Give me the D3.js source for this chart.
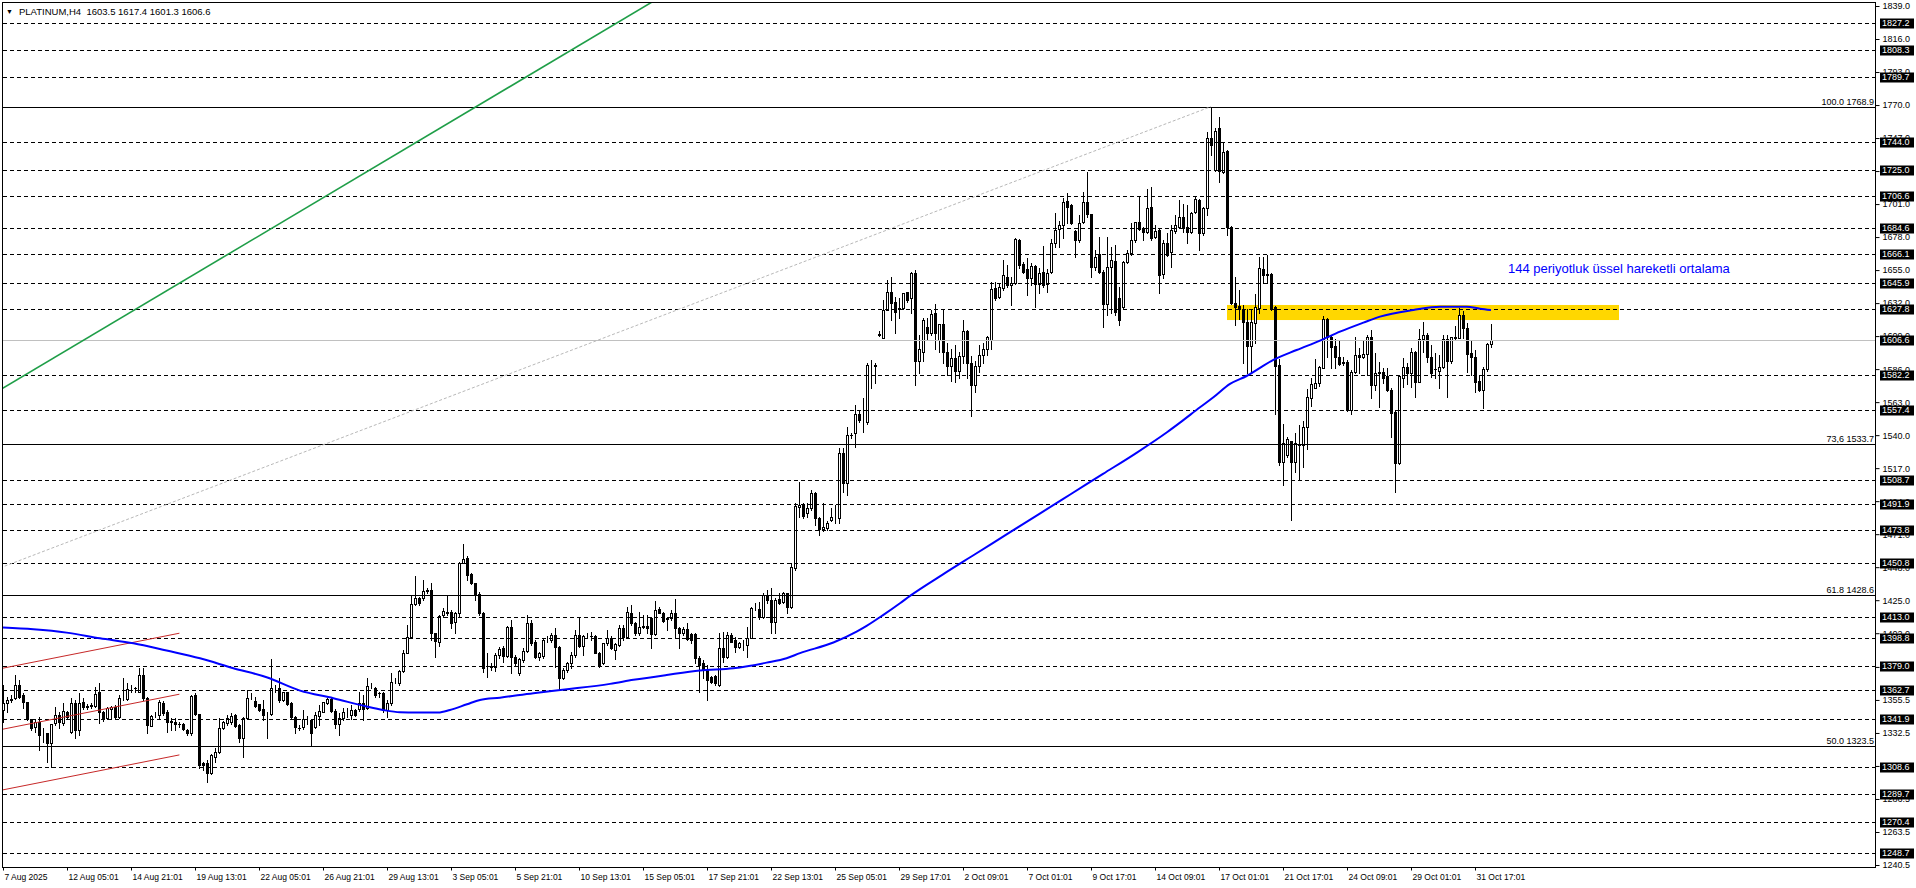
<!DOCTYPE html>
<html><head><meta charset="utf-8">
<script src="https://cdn.jsdelivr.net/npm/d3@7"></script>
<style>
body{margin:0;background:#fff;}
svg{display:block;}
text{font-family:"Liberation Sans",Arial,sans-serif;}
</style>
</head><body>
<svg id="chart" width="1916" height="888"></svg>
<script>
// ---------------- DATA ----------------
const symbolTitle = "PLATINUM,H4";
const lastOHLC = ["1603.5", "1617.4", "1601.3", "1606.6"];

const opens = [
1348.5,1353.6,1355.5,1356.7,1365.9,1359.0,1353.9,1342.0,1336.9,1340.4,
1332.3,1332.3,1325.3,1339.3,1345.1,1339.3,1347.4,1333.4,1353.2,1334.6,
1354.3,1351.6,1351.6,1351.3,1360.8,1347.4,1342.7,1349.0,1350.9,1343.9,
1356.7,1356.0,1363.6,1363.6,1361.3,1372.9,1356.7,1337.6,1345.1,1345.1,
1353.6,1347.4,1340.4,1340.0,1338.6,1338.6,1334.6,1332.7,1359.0,1345.5,
1311.9,1311.9,1304.4,1316.0,1319.0,1335.8,1339.7,1340.4,1344.9,1338.1,
1328.8,1342.7,1357.8,1354.8,1352.7,1349.2,1346.2,1345.8,1363.6,1364.1,
1355.5,1360.8,1353.2,1343.4,1336.2,1336.9,1342.0,1341.6,1336.9,1344.4,
1347.4,1353.6,1356.2,1348.1,1338.8,1342.7,1346.9,1345.1,1348.5,1349.0,
1353.2,1349.7,1365.3,1363.6,1360.2,1360.2,1348.5,1353.2,1368.5,1367.1,
1375.9,1388.5,1399.6,1422.2,1426.3,1426.3,1431.6,1432.1,1401.9,1396.2,
1414.7,1416.6,1417.0,1409.6,1415.9,1451.2,1454.2,1443.3,1436.8,1429.3,
1416.4,1378.7,1378.7,1378.7,1386.9,1392.0,1386.2,1406.1,1385.7,1374.6,
1383.4,1389.6,1408.9,1395.9,1385.7,1386.2,1398.5,1397.3,1400.8,1392.7,
1370.6,1376.4,1381.0,1386.9,1400.8,1393.1,1400.1,1400.1,1400.3,1388.5,
1381.0,1395.0,1398.9,1390.3,1393.9,1405.5,1399.6,1415.9,1409.0,1402.4,
1406.0,1407.1,1412.9,1401.3,1418.7,1415.9,1412.0,1412.4,1415.9,1405.5,
1402.0,1404.8,1401.3,1401.3,1384.6,1381.0,1376.4,1371.8,1372.2,1366.0,
1391.5,1385.7,1400.8,1397.3,1392.7,1395.0,1393.9,1398.9,1419.4,1418.7,
1413.6,1428.7,1425.2,1410.1,1425.7,1424.0,1429.8,1420.6,1447.2,1489.7,
1491.8,1485.6,1489.0,1499.5,1482.1,1474.5,1475.5,1481.0,1482.5,1482.1,
1527.8,1506.5,1540.1,1541.3,1554.8,1550.6,1549.4,1588.9,1588.4,1610.0,
1607.5,1627.2,1639.5,1633.0,1628.0,1628.4,1639.5,1635.3,1653.2,1592.0,
1598.0,1615.6,1611.0,1624.9,1606.0,1617.2,1598.0,1588.0,1594.0,1585.0,
1595.0,1612.6,1590.0,1575.0,1588.0,1596.0,1600.0,1606.0,1642.3,1636.5,
1642.3,1650.4,1644.6,1645.8,1676.0,1659.3,1655.5,1649.3,1657.9,1645.3,
1653.5,1645.3,1653.9,1673.7,1683.4,1686.4,1703.1,1700.4,1682.3,1676.0,
1688.7,1702.7,1694.0,1657.4,1666.2,1654.0,1631.4,1657.4,1661.0,1635.3,
1629.5,1660.4,1667.2,1676.0,1688.3,1684.1,1681.8,1698.7,1677.8,1682.9,
1652.3,1673.7,1667.9,1682.5,1685.3,1692.2,1685.3,1681.8,1695.7,1703.9,
1680.6,1698.0,1746.8,1725.0,1753.8,1723.6,1738.2,1685.3,1632.3,1630.0,
1628.0,1619.0,1602.0,1618.0,1628.4,1656.0,1651.6,1652.0,1629.5,1589.0,
1521.6,1526.0,1536.0,1521.6,1534.0,1533.0,1546.0,1566.0,1573.0,1576.0,
1587.0,1620.7,1608.6,1602.0,1594.7,1590.0,1591.2,1557.5,1584.2,1595.9,
1594.7,1596.5,1608.6,1575.0,1584.0,1584.0,1581.0,1571.5,1556.4,1520.4,
1580.0,1587.3,1583.6,1598.2,1577.3,1606.8,1609.8,1594.2,1586.0,1585.0,
1587.3,1606.8,1592.0,1608.0,1607.5,1623.7,1614.4,1597.5,1594.7,1578.0,
1571.5,1585.9,1603.5];

const highs = [
1365.9,1357.8,1359.0,1372.9,1369.4,1360.0,1354.0,1342.0,1342.0,1343.9,
1335.8,1332.7,1338.5,1350.9,1347.0,1353.2,1348.0,1356.7,1355.5,1360.1,
1357.0,1353.0,1353.5,1364.8,1367.1,1348.0,1350.5,1351.6,1352.0,1359.0,
1370.6,1367.1,1365.9,1364.8,1377.5,1377.5,1357.8,1345.0,1347.4,1355.5,
1354.5,1348.5,1342.7,1342.7,1340.4,1339.3,1335.0,1359.0,1360.1,1346.0,
1312.0,1313.7,1318.0,1321.8,1343.2,1340.5,1345.1,1346.2,1346.0,1339.0,
1343.5,1362.5,1360.1,1357.8,1353.0,1355.5,1347.0,1383.8,1365.9,1370.6,
1361.3,1361.0,1354.0,1344.0,1338.1,1348.5,1344.0,1342.0,1347.4,1352.0,
1354.0,1357.0,1357.6,1349.0,1346.2,1349.7,1349.7,1352.0,1349.0,1361.3,
1359.0,1371.1,1367.1,1364.8,1361.3,1361.0,1355.6,1374.1,1370.6,1376.4,
1390.3,1407.8,1428.7,1441.9,1427.0,1439.1,1433.3,1437.3,1402.0,1414.7,
1419.4,1428.0,1418.2,1417.0,1451.9,1464.2,1455.8,1444.0,1437.3,1431.0,
1417.0,1388.0,1381.0,1388.0,1392.7,1393.0,1407.1,1411.2,1386.9,1384.6,
1391.5,1414.7,1411.2,1397.3,1389.2,1398.0,1400.1,1402.0,1405.4,1393.0,
1377.6,1382.0,1389.2,1404.3,1413.1,1401.0,1401.9,1403.1,1401.0,1389.0,
1395.5,1404.3,1400.0,1395.0,1407.6,1408.0,1420.6,1421.7,1410.0,1417.0,
1414.8,1414.8,1413.0,1424.5,1420.6,1417.0,1413.6,1418.2,1425.7,1406.0,
1406.0,1408.9,1402.0,1402.4,1385.8,1383.4,1379.9,1372.0,1373.0,1402.0,
1403.0,1403.0,1402.0,1399.6,1396.0,1397.6,1406.6,1420.6,1422.9,1424.0,
1430.0,1432.2,1433.4,1426.4,1429.8,1430.4,1430.0,1450.8,1492.5,1507.6,
1493.0,1492.5,1501.8,1500.7,1483.0,1492.5,1480.0,1489.0,1491.4,1530.8,
1530.8,1545.9,1541.3,1561.0,1557.5,1565.7,1590.0,1592.3,1590.0,1612.6,
1634.2,1648.1,1650.4,1636.5,1635.3,1639.0,1640.0,1654.0,1655.0,1610.0,
1621.4,1621.4,1627.2,1631.4,1617.2,1627.7,1604.0,1600.0,1603.0,1598.0,
1620.3,1613.0,1595.0,1592.0,1603.0,1604.0,1609.0,1647.0,1647.0,1645.8,
1662.1,1658.6,1650.5,1677.1,1676.4,1660.9,1663.2,1660.2,1658.6,1656.2,
1672.0,1656.0,1676.4,1694.6,1689.2,1705.0,1709.0,1701.0,1683.0,1693.4,
1709.6,1723.1,1694.0,1669.0,1678.3,1655.0,1678.3,1671.3,1672.5,1643.5,
1661.4,1669.0,1687.6,1688.7,1706.2,1685.3,1711.3,1712.7,1686.4,1684.1,
1676.0,1680.6,1686.4,1693.4,1703.8,1701.0,1700.4,1695.5,1706.6,1704.3,
1699.2,1751.5,1768.4,1754.0,1761.9,1744.5,1738.7,1686.0,1650.4,1641.0,
1631.0,1628.0,1628.0,1638.0,1664.0,1664.4,1665.5,1653.0,1630.0,1593.0,
1547.8,1539.0,1536.0,1541.3,1547.0,1550.0,1572.0,1580.0,1593.0,1588.0,
1623.0,1621.4,1609.8,1606.8,1606.3,1594.7,1592.4,1585.4,1608.6,1600.5,
1606.3,1609.8,1613.3,1597.0,1591.0,1586.6,1586.6,1572.6,1557.6,1582.0,
1593.5,1590.0,1600.5,1598.9,1613.8,1619.1,1611.0,1602.8,1597.0,1595.9,
1609.8,1609.8,1608.6,1616.0,1628.4,1626.7,1617.9,1606.3,1599.3,1581.9,
1587.3,1604.4,1617.4];

const lows = [
1340.4,1347.4,1354.0,1356.0,1356.7,1350.0,1341.6,1334.6,1333.5,1320.7,
1326.5,1312.1,1309.1,1338.0,1336.0,1338.0,1342.0,1332.3,1328.8,1331.1,
1349.0,1349.0,1350.0,1350.9,1339.3,1341.0,1342.0,1342.7,1343.0,1342.7,
1355.5,1355.5,1361.3,1361.3,1360.8,1355.5,1332.7,1337.0,1343.9,1342.7,
1345.0,1333.4,1334.6,1334.6,1336.9,1334.6,1331.0,1331.1,1345.0,1307.9,
1306.7,1298.6,1304.0,1312.5,1318.4,1335.0,1338.0,1339.0,1336.9,1326.5,
1316.0,1342.0,1356.0,1350.9,1348.0,1341.6,1329.3,1345.0,1361.3,1354.4,
1355.0,1352.0,1342.5,1332.3,1334.6,1335.5,1339.0,1324.2,1336.0,1338.0,
1347.0,1353.0,1347.0,1335.8,1331.1,1341.6,1343.9,1342.0,1344.0,1348.0,
1341.6,1349.0,1363.6,1357.8,1357.8,1347.4,1343.4,1352.0,1367.1,1366.0,
1375.2,1388.0,1399.2,1421.7,1422.0,1425.0,1429.8,1397.3,1385.7,1393.1,
1413.6,1414.7,1405.4,1402.4,1413.1,1450.7,1439.1,1436.0,1425.2,1414.7,
1375.2,1371.8,1376.4,1376.0,1384.5,1382.2,1385.7,1374.1,1379.9,1372.9,
1382.2,1389.2,1393.8,1384.5,1383.4,1385.0,1396.1,1396.0,1378.7,1362.5,
1369.9,1375.0,1377.6,1385.7,1392.7,1386.9,1398.5,1397.3,1388.0,1378.7,
1380.6,1394.0,1391.0,1384.0,1393.0,1397.0,1398.5,1407.9,1401.0,1400.7,
1405.5,1402.4,1392.0,1401.0,1415.9,1410.0,1404.3,1411.2,1399.6,1392.0,
1401.0,1397.0,1395.0,1381.0,1361.3,1370.6,1355.5,1367.0,1366.0,1365.0,
1382.0,1385.0,1396.0,1389.0,1392.0,1390.5,1385.7,1398.5,1418.2,1412.0,
1412.3,1422.9,1402.0,1402.0,1422.4,1423.0,1415.9,1419.4,1446.0,1483.3,
1482.0,1483.3,1487.9,1477.4,1470.5,1473.5,1474.0,1480.5,1478.6,1478.6,
1500.7,1498.3,1537.8,1532.0,1549.4,1542.5,1547.8,1572.7,1576.0,1609.0,
1607.5,1627.2,1620.3,1611.4,1621.4,1628.0,1633.0,1625.0,1575.0,1583.0,
1592.0,1606.3,1609.8,1600.0,1598.0,1590.0,1582.0,1578.0,1577.0,1580.0,
1590.0,1580.0,1553.0,1570.0,1584.0,1590.0,1596.0,1600.0,1634.2,1635.3,
1641.2,1643.5,1630.7,1645.3,1656.3,1652.8,1637.7,1644.6,1629.5,1638.8,
1643.5,1640.0,1652.8,1671.3,1671.3,1677.1,1687.6,1687.1,1664.4,1674.8,
1687.6,1692.3,1650.4,1655.1,1652.8,1615.6,1623.7,1624.9,1623.7,1616.8,
1628.4,1659.7,1665.5,1674.8,1683.0,1676.0,1681.1,1676.0,1677.1,1639.3,
1649.3,1664.9,1657.4,1681.1,1684.1,1681.8,1673.7,1680.6,1695.0,1669.0,
1679.5,1693.4,1735.2,1724.0,1716.6,1722.4,1679.5,1631.5,1617.0,1621.0,
1590.0,1583.0,1583.0,1604.0,1625.0,1645.8,1646.0,1627.0,1555.0,1519.0,
1505.3,1525.0,1481.0,1514.6,1509.0,1518.0,1530.0,1560.3,1573.0,1574.0,
1586.5,1594.7,1586.6,1586.6,1588.9,1589.0,1557.0,1554.8,1583.6,1583.0,
1593.5,1581.9,1565.7,1571.5,1559.4,1576.0,1571.0,1539.0,1500.6,1520.0,
1573.3,1575.6,1573.3,1566.3,1576.8,1598.2,1591.2,1580.3,1579.6,1572.6,
1586.6,1566.3,1590.0,1607.0,1607.5,1607.5,1584.2,1581.9,1570.3,1571.0,
1558.7,1585.0,1601.3];

const closes = [
1353.6,1355.5,1356.0,1365.9,1357.8,1354.3,1342.0,1335.8,1340.4,1331.1,
1332.6,1325.3,1338.5,1345.1,1340.4,1347.8,1343.9,1353.2,1334.6,1353.6,
1350.9,1350.9,1351.7,1359.4,1347.4,1342.7,1349.7,1350.9,1343.9,1356.7,
1356.8,1362.9,1363.7,1363.5,1372.9,1356.7,1338.1,1344.4,1345.2,1354.3,
1346.2,1340.4,1340.5,1338.8,1338.5,1335.1,1332.7,1358.3,1345.5,1310.2,
1310.2,1304.4,1317.2,1319.0,1335.8,1339.9,1342.7,1344.4,1337.4,1328.8,
1342.7,1357.1,1357.9,1351.3,1348.5,1345.1,1346.3,1363.6,1363.8,1355.5,
1360.8,1352.7,1343.4,1336.9,1335.8,1342.0,1342.2,1332.3,1345.1,1348.1,
1353.9,1356.2,1347.8,1338.8,1342.7,1346.9,1347.0,1348.5,1345.1,1353.2,
1349.0,1365.3,1365.4,1359.0,1360.1,1348.5,1353.2,1368.3,1368.8,1375.9,
1388.5,1399.6,1422.2,1426.3,1422.8,1431.4,1431.8,1401.9,1396.8,1414.0,
1417.7,1416.4,1409.4,1415.9,1450.7,1453.5,1442.6,1436.8,1428.7,1416.4,
1377.6,1378.8,1378.9,1386.9,1390.8,1386.2,1406.1,1385.7,1381.5,1383.8,
1389.9,1408.9,1395.4,1385.7,1388.5,1397.3,1398.6,1400.8,1392.2,1370.6,
1376.4,1381.5,1386.9,1400.8,1393.1,1400.1,1400.2,1399.8,1388.5,1379.9,
1395.0,1398.9,1391.5,1394.5,1405.5,1399.6,1417.1,1409.0,1402.0,1406.2,
1407.1,1405.5,1401.3,1418.2,1416.4,1410.8,1412.4,1415.9,1405.5,1402.0,
1404.8,1397.8,1397.3,1384.6,1379.9,1376.4,1369.5,1368.3,1367.2,1391.5,
1385.7,1400.8,1396.2,1392.7,1395.0,1395.2,1398.9,1419.4,1419.7,1413.6,
1428.7,1425.2,1410.1,1425.2,1422.9,1429.8,1420.6,1448.4,1490.7,1491.4,
1483.7,1489.5,1499.5,1482.1,1474.5,1476.0,1478.5,1483.0,1482.6,1527.4,
1506.5,1540.1,1540.0,1554.8,1550.6,1550.7,1588.9,1589.0,1588.6,1610.3,
1627.2,1639.5,1632.3,1626.0,1628.4,1638.8,1634.2,1653.2,1592.0,1600.0,
1620.3,1611.0,1624.2,1611.0,1617.2,1598.0,1588.0,1594.0,1585.0,1595.0,
1612.6,1590.0,1575.0,1588.0,1596.0,1600.0,1608.6,1641.6,1635.3,1643.0,
1651.6,1644.6,1646.0,1676.4,1658.6,1653.9,1649.3,1657.9,1645.3,1653.2,
1644.6,1653.2,1673.7,1683.0,1686.4,1702.7,1698.7,1688.1,1676.0,1688.1,
1702.7,1693.9,1657.4,1664.4,1654.0,1631.4,1657.4,1662.0,1626.0,1620.3,
1660.4,1667.2,1676.0,1688.3,1683.4,1681.8,1698.0,1677.1,1682.3,1651.6,
1673.7,1665.5,1683.0,1686.4,1692.2,1684.6,1681.8,1695.0,1704.3,1680.6,
1698.0,1746.8,1742.2,1752.1,1724.3,1737.5,1685.3,1632.3,1629.0,1627.6,
1619.0,1602.0,1619.0,1629.5,1656.2,1651.6,1652.4,1628.4,1588.0,1521.6,
1534.8,1537.0,1521.6,1534.3,1533.0,1546.0,1566.4,1575.4,1576.0,1587.3,
1620.7,1608.6,1601.7,1594.7,1589.6,1591.0,1557.5,1584.2,1595.9,1594.2,
1596.5,1608.6,1575.0,1583.6,1583.0,1580.0,1571.5,1555.7,1520.4,1581.2,
1587.3,1583.6,1598.2,1577.3,1606.8,1609.8,1594.2,1583.6,1585.9,1587.3,
1606.8,1592.0,1608.2,1608.2,1623.7,1614.4,1596.5,1594.7,1577.3,1571.5,
1585.9,1603.5,1606.6];

// 144-period EMA as (bar index, value) points
const emaBars = [0,7.6,15.9,24.25,32.6,40.9,49.25,57.6,65.9,74.25,82.6,90.9,95,99.25,103.4,108.8,111.75,116,119.25,124.25,132.6,141,151.75,157.6,165.9,174.25,182.6,190.9,195.9,199.25,207.6,213.4,215.9,220.1,224.25,226.75,235,243,251,259,267,275,283,291,294.25,299.25,302.6,306.75,310.9,317.6,323.4,329.25,334.25,340.1,344.25,352.6,359.25,365.9,369.25,372];
const emaValues = [1405.9,1404.7,1402.4,1398.5,1395.0,1389.9,1384.5,1377.6,1371.3,1362.0,1356.7,1350.9,1348.5,1346.9,1346.7,1346.7,1348.5,1352.5,1355.5,1357.1,1360.2,1362.9,1366.7,1369.5,1372.9,1376.0,1377.6,1381.5,1384.6,1388.1,1395.5,1403.1,1407.1,1414.8,1422.9,1428.0,1443,1457,1471,1485,1499,1513,1527,1542,1548.7,1559.4,1566.4,1575.7,1581.2,1592.4,1599.3,1605.9,1612.1,1618.4,1622.6,1627.2,1629.5,1629.5,1628.1,1627.2];

// Horizontal levels (dashed) with their price boxes
const levelPrices = [1827.2,1808.3,1789.7,1744.0,1725.0,1706.6,1684.6,1666.1,1645.9,1627.8,1582.2,1557.4,1508.7,1491.9,1473.8,1450.8,1413.0,1398.8,1379.0,1362.7,1341.9,1308.6,1289.7,1270.4,1248.7];
const currentPrice = 1606.6;

// Fibonacci levels
const fibPrices = [1768.9, 1533.7, 1428.6, 1323.5];
const fibNames = ["100.0", "73,6", "61.8", "50.0"];

// Price axis tick labels
const priceTicks = [1839.0,1816.0,1793.0,1770.0,1747.0,1724.0,1701.0,1678.0,1655.0,1632.0,1609.0,1586.0,1563.0,1540.0,1517.0,1494.0,1471.0,1448.0,1425.0,1402.0,1378.5,1355.5,1332.5,1309.5,1286.5,1263.5,1240.5];

// Time axis labels (every 16 bars)
const dateLabels = ["7 Aug 2025","12 Aug 05:01","14 Aug 21:01","19 Aug 13:01","22 Aug 05:01","26 Aug 21:01","29 Aug 13:01","3 Sep 05:01","5 Sep 21:01","10 Sep 13:01","15 Sep 05:01","17 Sep 21:01","22 Sep 13:01","25 Sep 05:01","29 Sep 17:01","2 Oct 09:01","7 Oct 01:01","9 Oct 17:01","14 Oct 09:01","17 Oct 01:01","21 Oct 17:01","24 Oct 09:01","29 Oct 01:01","31 Oct 17:01"];
const dateLabelBars = [0,16,32,48,64,80,96,112,128,144,160,176,192,208,224,240,256,272,288,304,320,336,352,368];

// Trend lines: [bar, price] endpoints
const greenLineBars = [-0.2, 163]; const greenLinePrices = [1572.4, 1843.0];
const grayLineBars = [-0.75, 302]; const grayLinePrices = [1447.5, 1768.9];
const redLineBars = [-0.1, 44.1];
const redLineStart = [1377.6, 1335.1, 1292.8];
const redLineEnd = [1402.0, 1359.5, 1317.2];

// Resistance zone
const zoneBars = [306, 404]; const zonePrices = [1620.2, 1630.7];
const emaNote = "144 periyotluk üssel hareketli ortalama";
const emaNoteBar = 376.25, emaNotePrice = 1653;

// ---------------- DRAWING ----------------
const W = 1916, H = 888;
const plotL = 2, plotT = 2, plotR = 1875, plotB = 867;
const svg = d3.select("#chart");
svg.append("rect").attr("width", W).attr("height", H).attr("fill", "#fff");

const x = d3.scaleLinear().domain([0, 372]).range([3, 1491]);
const y = d3.scaleLinear().domain([1240.5, 1839]).range([865, 6]);
const py = p => Math.round(y(p)) + 0.5;

svg.append("defs").append("clipPath").attr("id", "plotClip")
  .append("rect").attr("x", plotL).attr("y", plotT).attr("width", plotR - plotL).attr("height", plotB - plotT);
const plot = svg.append("g").attr("clip-path", "url(#plotClip)");

// yellow zone (background)
plot.append("rect")
  .attr("x", x(zoneBars[0])).attr("width", x(zoneBars[1]) - x(zoneBars[0]))
  .attr("y", y(zonePrices[1])).attr("height", y(zonePrices[0]) - y(zonePrices[1]))
  .attr("fill", "#ffd700");

// candles
const candles = plot.append("g");
d3.range(opens.length).forEach(i => {
  const o = opens[i], c = closes[i];
  const hi = Math.max(highs[i], o, c), lo = Math.min(lows[i], o, c);
  const cx = Math.round(x(i));
  const yh = Math.round(y(hi)), yl = Math.round(y(lo));
  const top = Math.round(y(Math.max(o, c))), bot = Math.round(y(Math.min(o, c)));
  candles.append("rect").attr("x", cx).attr("y", yh).attr("width", 1).attr("height", Math.max(1, yl - yh + 1)).attr("fill", "#000");
  if (c < o) {
    candles.append("rect").attr("x", cx - 1).attr("y", top).attr("width", 3).attr("height", Math.max(1, bot - top + 1)).attr("fill", "#000");
  } else {
    candles.append("rect").attr("x", cx - 0.5).attr("y", top + 0.5).attr("width", 2).attr("height", Math.max(0, bot - top))
      .attr("fill", "#fff").attr("stroke", "#000").attr("stroke-width", 1);
  }
});

// current price line
plot.append("line").attr("x1", plotL).attr("x2", plotR).attr("y1", py(currentPrice)).attr("y2", py(currentPrice))
  .attr("stroke", "#c0c0c0").attr("stroke-width", 1);

// dashed levels
plot.selectAll("line.lvl").data(levelPrices).enter().append("line").attr("class", "lvl")
  .attr("x1", 3).attr("x2", plotR).attr("y1", d => py(d)).attr("y2", d => py(d))
  .attr("stroke", "#000").attr("stroke-width", 1).attr("stroke-dasharray", "4,3");

// fib lines
plot.selectAll("line.fib").data(fibPrices).enter().append("line").attr("class", "fib")
  .attr("x1", plotL).attr("x2", plotR).attr("y1", d => py(d)).attr("y2", d => py(d))
  .attr("stroke", "#000").attr("stroke-width", 1);
plot.selectAll("text.fib").data(fibPrices).enter().append("text").attr("class", "fib")
  .attr("x", plotR - 1).attr("y", d => py(d) - 3).attr("text-anchor", "end")
  .attr("font-size", "9px").attr("fill", "#000")
  .text((d, i) => fibNames[i] + " " + d.toFixed(1));

// gray dotted trend line
plot.append("line")
  .attr("x1", x(grayLineBars[0])).attr("y1", y(grayLinePrices[0]))
  .attr("x2", x(grayLineBars[1])).attr("y2", y(grayLinePrices[1]))
  .attr("stroke", "#b8b8b8").attr("stroke-width", 1).attr("stroke-dasharray", "3,2");

// green trend line
plot.append("line")
  .attr("x1", x(greenLineBars[0])).attr("y1", y(greenLinePrices[0]))
  .attr("x2", x(greenLineBars[1])).attr("y2", y(greenLinePrices[1]))
  .attr("stroke", "#1f9e48").attr("stroke-width", 1.6);

// red channel lines
redLineStart.forEach((p, k) => {
  plot.append("line")
    .attr("x1", x(redLineBars[0])).attr("y1", y(p))
    .attr("x2", x(redLineBars[1])).attr("y2", y(redLineEnd[k]))
    .attr("stroke", "#c62828").attr("stroke-width", 1);
});

// EMA
const emaLine = d3.line().x(d => x(d[0])).y(d => y(d[1])).curve(d3.curveMonotoneX);
plot.append("path").datum(emaBars.map((b, i) => [b, emaValues[i]]))
  .attr("d", emaLine).attr("fill", "none").attr("stroke", "#0000ff").attr("stroke-width", 2);

// EMA note
plot.append("text").attr("x", x(emaNoteBar)).attr("y", y(emaNotePrice))
  .attr("font-size", "13px").attr("fill", "#0000ff").text(emaNote);

// header
const hdr = svg.append("text").attr("x", 6).attr("y", 15).attr("font-size", "9.5px").attr("fill", "#000");
hdr.append("tspan").attr("font-size", "7px").attr("dy", "-1").text("\u25BC");
hdr.append("tspan").attr("x", 19).attr("dy", "1").text(symbolTitle + "\u00a0\u00a0" + lastOHLC.join(" "));

// frame
svg.append("rect").attr("x", plotL + 0.5).attr("y", plotT + 0.5).attr("width", plotR - plotL).attr("height", plotB - plotT)
  .attr("fill", "none").attr("stroke", "#000").attr("stroke-width", 1);

// right price axis
const yAxis = d3.axisRight(y).tickValues(priceTicks).tickFormat(d3.format(".1f")).tickSize(4).tickPadding(3);
const ya = svg.append("g").attr("transform", `translate(${plotR + 0.5},0)`).call(yAxis);
ya.select(".domain").remove();
ya.selectAll("text").attr("font-size", "9px").attr("fill", "#000").style("font-family", '"Liberation Sans",Arial,sans-serif');
ya.selectAll("line").attr("stroke", "#000");

// bottom time axis
const xAxis = d3.axisBottom(x).tickValues(dateLabelBars).tickFormat((d, i) => dateLabels[i]).tickSize(3).tickPadding(3);
const xa = svg.append("g").attr("transform", `translate(0,${plotB + 0.5})`).call(xAxis);
xa.select(".domain").remove();
xa.selectAll("text").attr("font-size", "8.5px").attr("text-anchor", "start").attr("x", 1).attr("fill", "#000")
  .style("font-family", '"Liberation Sans",Arial,sans-serif');
xa.selectAll("line").attr("stroke", "#000");

// price boxes on the axis
const boxes = svg.append("g");
levelPrices.concat([currentPrice]).forEach(p => {
  const cy = Math.round(y(p));
  boxes.append("rect").attr("x", 1880).attr("y", cy - 4.5).attr("width", 34).attr("height", 10).attr("fill", "#000");
  boxes.append("text").attr("x", 1882).attr("y", cy + 0.5).attr("dominant-baseline", "middle")
    .attr("font-size", "9px").attr("fill", "#fff").text(p.toFixed(1));
});
</script>
</body></html>
